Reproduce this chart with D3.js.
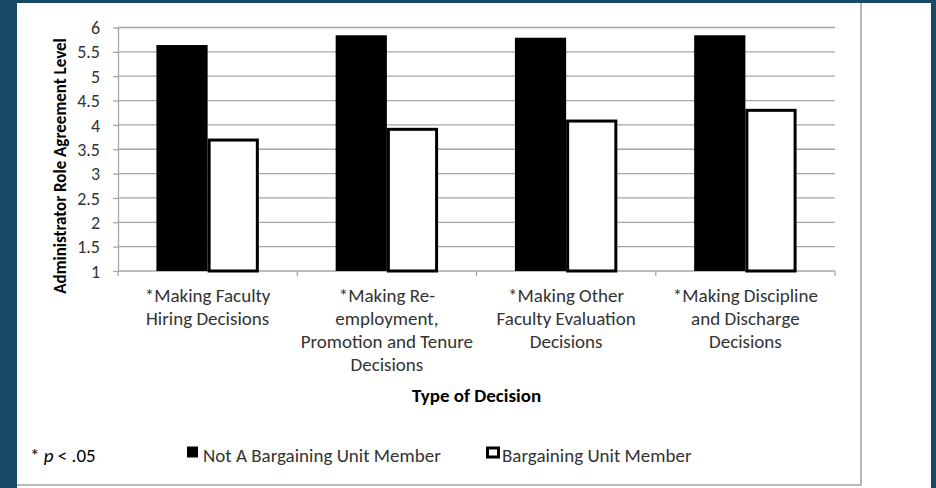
<!DOCTYPE html>
<html>
<head>
<meta charset="utf-8">
<script src="https://cdn.jsdelivr.net/npm/d3@7"></script>
<style>
  html, body { margin: 0; padding: 0; background: #184a66; }
  svg { display: block; }
  text { font-family: Carlito, Lato, "Open Sans", sans-serif; }
</style>
</head>
<body>
<svg id="chart" width="936" height="488"></svg>
<script>
// ---- data ----
const categories = ["Hiring", "Re-employment", "Other Evaluation", "Discipline"];
const categoryLabels = [
  ["*Making Faculty", "Hiring Decisions"],
  ["*Making Re-", "employment,", "Promotion and Tenure", "Decisions"],
  ["*Making Other", "Faculty Evaluation", "Decisions"],
  ["*Making Discipline", "and Discharge", "Decisions"]
];
const seriesNames = ["Not A Bargaining Unit Member", "Bargaining Unit Member"];
const notMemberValues = [5.64, 5.84, 5.79, 5.84];
const memberValues = [3.72, 3.94, 4.11, 4.33];
const yTicks = [1, 1.5, 2, 2.5, 3, 3.5, 4, 4.5, 5, 5.5, 6];
const yTitle = "Administrator Role Agreement Level";
const xTitle = "Type of Decision";
const noteText = "p";

// ---- layout ----
const svg = d3.select("#chart");
const plot = { left: 118, right: 835, top: 27.5, bottom: 271 };
const gridColor = "#a6a6a6";
const textColor = "#333333";
const labelSize = "19px";

// white card
svg.append("rect").attr("x", 17).attr("y", 3).attr("width", 914).attr("height", 485).attr("fill", "#ffffff");
// chart frame (right and bottom visible)
svg.append("line").attr("x1", 861).attr("x2", 861).attr("y1", 3).attr("y2", 485.5)
  .attr("stroke", "#a0a0a0").attr("stroke-width", 1.5);
svg.append("line").attr("x1", 17).attr("x2", 861).attr("y1", 485).attr("y2", 485)
  .attr("stroke", "#a0a0a0").attr("stroke-width", 1.5);

const y = d3.scaleLinear().domain([1, 6]).range([plot.bottom, plot.top]);
const x0 = d3.scaleBand().domain(categories).range([plot.left, plot.right]).padding(0);
const bw = x0.bandwidth();
const x1 = d3.scaleBand().domain(seriesNames)
  .range([bw * 0.75 / 3.5, bw * 2.75 / 3.5]).padding(0);

// gridlines
svg.append("g").selectAll("line").data(yTicks.filter(t => t > 1)).join("line")
  .attr("x1", plot.left).attr("x2", plot.right)
  .attr("y1", d => y(d)).attr("y2", d => y(d))
  .attr("stroke", gridColor).attr("stroke-width", 1.3);

// y axis
const yAxis = d3.axisLeft(y).tickValues(yTicks).tickSize(5).tickSizeOuter(0)
  .tickFormat(d => String(d));
const gy = svg.append("g").attr("transform", `translate(${plot.left},0)`).call(yAxis);
gy.select(".domain").attr("stroke", gridColor).attr("stroke-width", 1.3);
gy.selectAll(".tick line").attr("stroke", gridColor).attr("stroke-width", 1.3);
gy.selectAll(".tick text").attr("x", -18).attr("dy", "0.34em").attr("fill", textColor)
  .style("font-size", "18px").style("font-family", "Carlito, Lato, sans-serif");

// x axis with ticks at band boundaries
const xBoundaries = categories.map(c => x0(c)).concat([x0(categories[categories.length - 1]) + bw]);
svg.append("line").attr("x1", plot.left).attr("x2", plot.right)
  .attr("y1", y(1)).attr("y2", y(1)).attr("stroke", gridColor).attr("stroke-width", 1.3);
svg.append("g").selectAll("line").data(xBoundaries).join("line")
  .attr("x1", d => d).attr("x2", d => d)
  .attr("y1", y(1)).attr("y2", y(1) + 5)
  .attr("stroke", gridColor).attr("stroke-width", 1.3);

// bars
const rows = categories.map((c, i) => ({ cat: c, vals: [notMemberValues[i], memberValues[i]] }));
const groups = svg.append("g").selectAll("g").data(rows).join("g")
  .attr("transform", d => `translate(${x0(d.cat)},0)`);
groups.selectAll("rect").data(d => d.vals.map((v, j) => ({ s: seriesNames[j], v, j }))).join("rect")
  .attr("x", d => x1(d.s) + (d.j === 1 ? 1.5 : 0))
  .attr("width", d => x1.bandwidth() - (d.j === 1 ? 3 : 0))
  .attr("y", d => y(d.v) + (d.j === 1 ? 1.5 : 0))
  .attr("height", d => y(1) - y(d.v) - (d.j === 1 ? 1.5 : 0))
  .attr("fill", d => d.j === 0 ? "#000000" : "#ffffff")
  .attr("stroke", d => d.j === 0 ? "none" : "#000000")
  .attr("stroke-width", 3);

// category labels
const lineH = 23.3;
const catG = svg.append("g").selectAll("text").data(rows).join("text")
  .attr("text-anchor", "middle").attr("fill", textColor)
  .style("font-size", labelSize);
catG.each(function(d, i) {
  const t = d3.select(this);
  categoryLabels[i].forEach((ln, k) => {
    t.append("tspan").attr("x", x0(d.cat) + bw / 2).attr("y", 301.5 + k * lineH).text(ln);
  });
});

// axis titles
svg.append("text").attr("x", (plot.left + plot.right) / 2).attr("y", 401.5)
  .attr("text-anchor", "middle").attr("fill", "#000").style("font-weight", "bold")
  .style("font-size", "19px").text(xTitle);
svg.append("text").attr("transform", `translate(66,166) rotate(-90)`)
  .attr("text-anchor", "middle").attr("fill", "#000").style("font-weight", "bold")
  .style("font-size", "17px").text(yTitle);

// note
const note = svg.append("text").attr("x", 30).attr("y", 461.5).attr("fill", "#000")
  .style("font-size", labelSize);
note.append("tspan").text("* ");
note.append("tspan").style("font-style", "italic").text(noteText);
note.append("tspan").text(" < .05");

// legend
const legendItems = [
  { name: seriesNames[0], x: 187, fill: "#000", stroke: "none" },
  { name: seriesNames[1], x: 486, fill: "#fff", stroke: "#000" }
];
const lg = svg.append("g").selectAll("g").data(legendItems).join("g")
  .attr("transform", d => `translate(${d.x},0)`);
lg.append("rect").attr("x", d => d.stroke === "none" ? 0 : 1.5).attr("y", d => d.stroke === "none" ? 446.5 : 448)
  .attr("width", 11).attr("height", d => d.stroke === "none" ? 11 : 9)
  .attr("fill", d => d.fill).attr("stroke", d => d.stroke).attr("stroke-width", 3);
lg.append("text").attr("x", 16).attr("y", 461.5).attr("fill", textColor)
  .style("font-size", labelSize).text(d => d.name);
</script>
</body>
</html>
